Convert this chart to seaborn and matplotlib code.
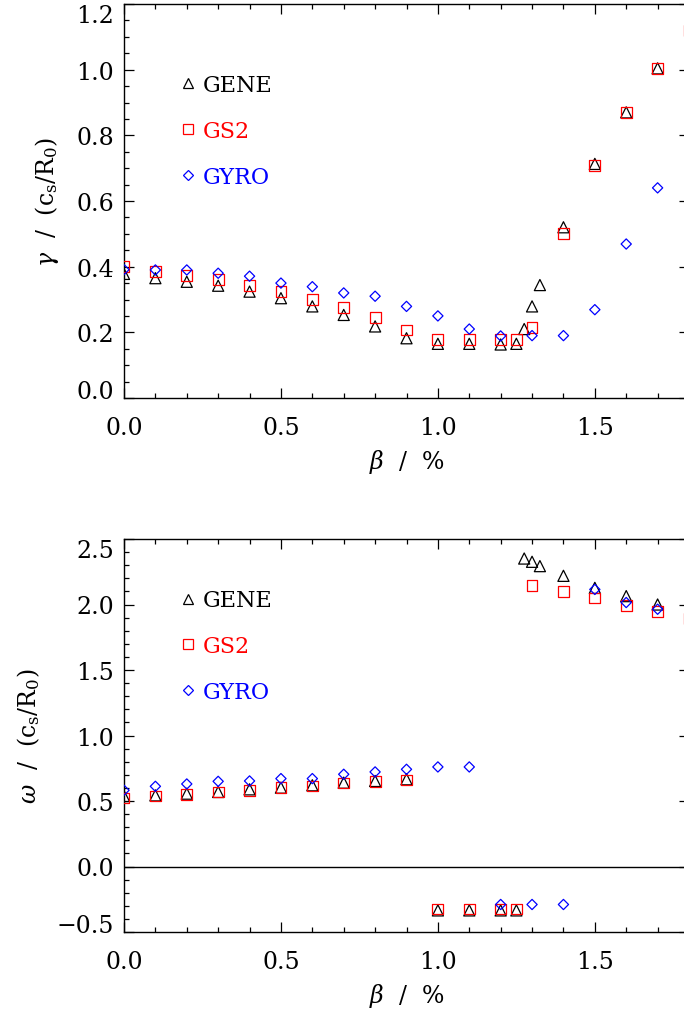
import numpy as np
import matplotlib
matplotlib.use("Agg")
import matplotlib.pyplot as plt
from matplotlib.lines import Line2D
from matplotlib.ticker import MultipleLocator, FuncFormatter
import seaborn as sns

# ---------------- data ----------------
series_names = ["GENE", "GS2", "GYRO"]
series_colors = ["black", "red", "blue"]
series_markers = ["^", "s", "D"]

gene_beta = [0.0, 0.1, 0.2, 0.3, 0.4, 0.5, 0.6, 0.7, 0.8, 0.9, 1.0, 1.1, 1.2,
             1.25, 1.275, 1.3, 1.325, 1.4, 1.5, 1.6, 1.7]
gene_gamma = [0.378, 0.365, 0.354, 0.342, 0.324, 0.304, 0.279, 0.253, 0.218,
              0.182, 0.165, 0.165, 0.163, 0.165, 0.21, 0.279, 0.344, 0.52,
              0.713, 0.87, 1.004]
gene_omega = [0.538, 0.543, 0.556, 0.569, 0.589, 0.602, 0.62, 0.64, 0.653,
              0.666, -0.335, -0.335, -0.335, -0.335, 2.351, 2.326, 2.293,
              2.219, 2.127, 2.064, 2.0]

gs2_beta = [0.0, 0.1, 0.2, 0.3, 0.4, 0.5, 0.6, 0.7, 0.8, 0.9, 1.0, 1.1, 1.2,
            1.25, 1.3, 1.4, 1.5, 1.6, 1.7, 1.8]
gs2_gamma = [0.40, 0.386, 0.373, 0.36, 0.342, 0.325, 0.30, 0.276, 0.244,
             0.207, 0.179, 0.179, 0.179, 0.179, 0.215, 0.50, 0.708, 0.87,
             1.004, 1.119]
gs2_omega = [0.523, 0.538, 0.551, 0.569, 0.582, 0.60, 0.615, 0.638, 0.65,
             0.66, -0.325, -0.325, -0.325, -0.325, 2.143, 2.10, 2.05, 1.995,
             1.944, 1.89]

gyro_beta = [0.0, 0.1, 0.2, 0.3, 0.4, 0.5, 0.6, 0.7, 0.8, 0.9, 1.0, 1.1, 1.2,
             1.3, 1.4, 1.5, 1.6, 1.7]
gyro_gamma = [0.391, 0.39, 0.39, 0.38, 0.371, 0.35, 0.339, 0.32, 0.31, 0.279,
              0.25, 0.21, 0.189, 0.19, 0.19, 0.269, 0.469, 0.64]
gyro_omega = [0.582, 0.612, 0.63, 0.65, 0.653, 0.671, 0.671, 0.704, 0.722,
              0.742, 0.76, 0.76, -0.29, -0.29, -0.29, 2.115, 2.015, 1.964]

x_label = r"$\beta\ \ /\ \ \%$"
gamma_label = r"$\gamma\ \ /\ \ (\mathrm{c_s/R_0})$"
omega_label = r"$\omega\ \ /\ \ (\mathrm{c_s/R_0})$"

# ---------------- style ----------------
sns.set_theme(style="white")
plt.rcParams["font.family"] = ["DejaVu Serif"]
plt.rcParams["mathtext.fontset"] = "dejavuserif"
plt.rcParams["axes.unicode_minus"] = True

FS = 17
LFS = 16
MS = {"^": 8.0, "s": 7.8, "D": 5.2}
LMS = {"^": 6.6, "s": 7.0, "D": 4.7}
LW = 0.9

fig = plt.figure(figsize=(6.84, 10.12), dpi=100)
W, H = 684.0, 1012.0
ax1 = fig.add_axes([124 / W, 1 - 399 / H, 565 / W, 394 / H])
ax2 = fig.add_axes([124 / W, 1 - 933 / H, 565 / W, 393 / H])


def draw(ax, xs, ys):
    for name, c, m, x, y in zip(series_names, series_colors, series_markers, xs, ys):
        sns.scatterplot(x=x, y=y, ax=ax, marker=m, s=MS[m] ** 2,
                        facecolor="none", color=c, linewidth=LW, zorder=3)
        coll = ax.collections[-1]
        coll.set_facecolor("none")
        coll.set_edgecolor(c)
        coll.set_linewidth(LW)


draw(ax1, [gene_beta, gs2_beta, gyro_beta], [gene_gamma, gs2_gamma, gyro_gamma])
draw(ax2, [gene_beta, gs2_beta, gyro_beta], [gene_omega, gs2_omega, gyro_omega])
ax2.axhline(0.0, color="black", lw=1.0, zorder=2)

fmt = FuncFormatter(lambda v, pos: ("%.1f" % v).replace("-", "\u2212"))

ax1.set_ylim(0.0, 1.2)
ax2.set_ylim(-0.5, 2.5)
for ax, ylab, ymaj, ymin in [(ax1, gamma_label, 0.2, 0.05), (ax2, omega_label, 0.5, 0.1)]:
    ax.set_xlim(0.0, 1.8)
    ax.xaxis.set_major_locator(MultipleLocator(0.5))
    ax.xaxis.set_minor_locator(MultipleLocator(0.1))
    ax.yaxis.set_major_locator(MultipleLocator(ymaj))
    ax.yaxis.set_minor_locator(MultipleLocator(ymin))
    ax.xaxis.set_major_formatter(fmt)
    ax.yaxis.set_major_formatter(fmt)
    ax.tick_params(which="both", direction="in", top=True, right=True,
                   bottom=True, left=True, colors="black", labelsize=FS)
    ax.tick_params(which="major", length=7.5, width=0.9)
    ax.tick_params(which="minor", length=3.8, width=0.9)
    ax.tick_params(axis="x", which="major", pad=13)
    ax.tick_params(axis="y", which="major", pad=7)
    for sp in ax.spines.values():
        sp.set_color("black")
        sp.set_linewidth(1.0)
        sp.set_visible(True)
    ax.set_xlabel(x_label, fontsize=FS, labelpad=6, color="black")
    ax.set_ylabel(ylab, fontsize=FS, labelpad=11, color="black")
    ax.grid(False)

handles = [Line2D([], [], marker=m, ls="none", mfc="none", mec=c, mew=LW, ms=LMS[m])
           for m, c in zip(series_markers, series_colors)]
for ax, ytop in [(ax1, 0.822), (ax2, 0.872)]:
    ax.legend(handles, series_names, loc="upper left", bbox_to_anchor=(0.097, ytop),
              frameon=False, borderpad=0, borderaxespad=0, handlelength=0.8,
              handletextpad=0.3, labelspacing=1.07, fontsize=LFS,
              labelcolor=series_colors)

# keep the extreme y tick labels inside the axes range, as in the original
fig.canvas.draw()
for ax in (ax1, ax2):
    lo, hi = ax.get_ylim()
    for tick in ax.yaxis.get_major_ticks():
        loc = tick.get_loc()
        if abs(loc - lo) < 1e-6:
            tick.label1.set_verticalalignment("baseline")
        elif abs(loc - hi) < 1e-6:
            tick.label1.set_verticalalignment("top")

fig.savefig("out.png", dpi=100)
